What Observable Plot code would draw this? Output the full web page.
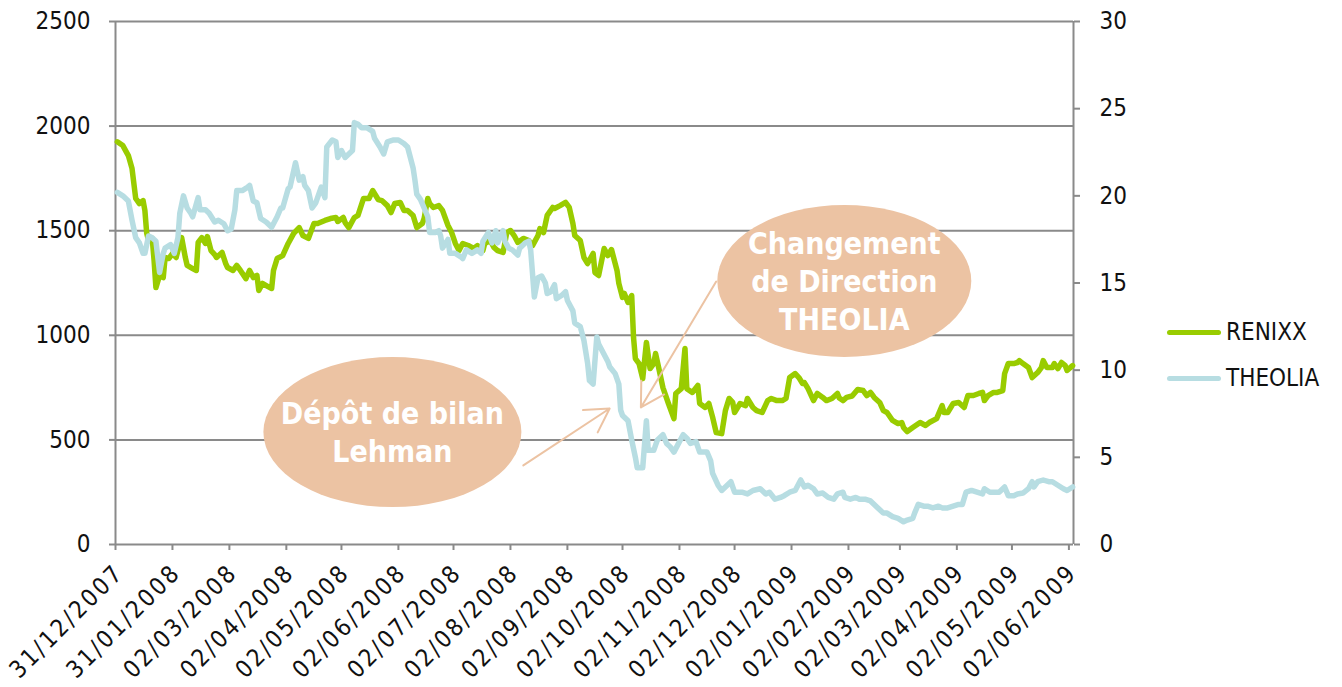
<!DOCTYPE html>
<html><head><meta charset="utf-8">
<script src="https://cdn.jsdelivr.net/npm/d3@7"></script>
<script src="https://cdn.jsdelivr.net/npm/@observablehq/plot@0.6"></script>
<style>
body{margin:0;background:#fff;}
#wrap{position:relative;width:1342px;height:687px;font-family:'DejaVu Sans Condensed','DejaVu Sans',sans-serif;font-stretch:condensed;}
#legend{position:absolute;left:1167px;top:309px;font-size:24px;color:#111;}
.item{display:flex;align-items:center;height:46px;white-space:nowrap;}
.sw{width:54px;height:5px;margin-right:5px;border-radius:2.5px;}
</style></head><body><div id="wrap"><div id="legend"></div></div>
<script>
// ---- data ----
const startLabel = "31/12/2007";
const xTickLabels = ["31/12/2007","31/01/2008","02/03/2008","02/04/2008","02/05/2008","02/06/2008","02/07/2008","02/08/2008","02/09/2008","02/10/2008","02/11/2008","02/12/2008","02/01/2009","02/02/2009","02/03/2009","02/04/2009","02/05/2009","02/06/2009"];
const leftTicks = [0,500,1000,1500,2000,2500];
const rightTicks = [0,5,10,15,20,25,30];
const seriesNames = ["RENIXX","THEOLIA"];

// days since 31/12/2007
const renixxDay = [1,4,7,9,11,13,15,16,17,18,20,21,22,24,26,27,29,31,33,35,36,38,39,42,44,45,47,49,50,52,54,55,58,60,61,64,66,68,71,73,75,77,78,80,83,85,86,88,91,94,97,100,102,105,108,110,114,117,120,121,124,125,127,130,132,135,138,140,143,145,148,150,152,155,157,159,162,164,167,168,170,171,173,176,178,181,183,185,187,189,192,195,197,200,201,204,206,208,211,213,215,217,219,222,225,227,230,231,233,235,238,239,242,245,247,249,250,253,255,257,260,261,263,266,268,270,273,274,276,277,279,281,282,283,285,287,289,291,293,294,296,298,301,304,305,308,310,311,314,317,318,321,323,325,327,330,332,334,336,337,340,343,344,347,349,352,355,357,360,363,365,367,370,372,374,375,377,380,382,385,387,390,393,394,396,398,401,404,407,409,411,413,416,418,420,423,426,428,429,431,434,438,441,443,447,450,451,453,456,459,462,464,467,470,472,473,475,478,480,483,484,486,489,491,492,494,497,499,502,504,505,507,510,511,513,515,517,518,521];
const renixxValue = [1925,1907,1859,1797,1654,1630,1644,1597,1487,1453,1463,1358,1228,1286,1276,1372,1367,1391,1372,1439,1467,1372,1334,1319,1310,1444,1467,1439,1472,1405,1386,1372,1396,1343,1324,1310,1334,1310,1271,1310,1276,1286,1214,1248,1233,1224,1310,1367,1381,1439,1487,1515,1477,1463,1534,1534,1549,1558,1563,1544,1563,1539,1515,1563,1573,1654,1654,1692,1649,1644,1620,1587,1630,1635,1597,1597,1573,1515,1534,1558,1654,1630,1611,1620,1597,1525,1491,1439,1405,1439,1429,1415,1429,1405,1439,1453,1420,1405,1396,1491,1501,1477,1444,1463,1453,1429,1477,1510,1491,1573,1611,1606,1620,1635,1611,1534,1477,1453,1372,1343,1391,1300,1286,1415,1381,1410,1310,1248,1181,1200,1157,1190,989,889,865,793,966,841,865,913,832,750,674,602,722,745,937,745,727,760,674,655,674,610,535,530,640,698,679,631,674,664,698,655,640,631,688,698,688,688,698,798,817,798,770,774,745,688,722,703,688,698,722,700,688,703,710,741,736,712,727,703,679,640,631,593,578,583,559,540,559,583,569,583,602,664,631,631,674,679,655,712,712,722,727,688,712,727,727,736,817,865,865,870,879,865,846,798,822,846,879,846,846,865,841,870,855,832,855];

const theoliaDay = [1,4,7,9,11,13,15,16,18,20,22,24,26,27,30,32,34,35,37,39,41,42,45,46,49,51,54,56,59,61,63,65,66,69,72,73,75,77,79,82,85,88,90,91,94,95,98,100,102,103,105,107,109,112,114,115,118,120,121,123,125,127,129,130,132,134,137,140,141,144,146,148,151,154,157,159,160,162,163,164,166,168,170,171,174,176,177,178,181,182,185,188,189,191,194,197,199,200,203,205,207,208,211,212,214,216,219,220,223,225,226,228,230,232,234,235,237,239,240,243,245,246,249,250,253,255,257,258,260,262,263,265,268,269,272,274,275,276,279,281,283,284,287,289,290,293,295,296,298,300,302,304,306,309,311,313,316,318,322,324,325,328,330,332,335,337,341,344,347,351,354,356,359,362,364,367,370,373,375,377,380,382,385,388,391,393,396,397,400,403,405,408,411,413,415,418,420,423,426,429,431,434,435,437,440,442,445,448,450,453,456,459,461,463,466,469,472,473,476,479,481,484,486,489,491,494,497,499,500,502,505,508,510,513,516,518,521];
const theoliaValue = [20.2,20.0,19.7,18.6,17.6,17.3,16.7,16.7,17.7,17.6,17.4,15.6,16.7,17.0,17.2,16.7,17.6,19.0,20.0,19.3,19.0,18.8,19.9,19.2,19.2,19.0,18.5,18.6,18.4,18.0,18.1,19.2,20.3,20.3,20.5,20.6,19.7,19.6,18.7,18.5,18.2,18.8,19.3,19.3,20.4,20.5,21.9,20.9,21.1,20.6,20.3,19.3,19.6,20.5,19.9,22.8,23.2,23.1,22.2,22.6,22.2,22.4,22.6,24.2,24.1,23.9,23.9,23.7,23.3,22.8,22.4,23.1,23.2,23.2,23.0,22.8,22.4,21.6,20.9,20.1,19.8,19.3,18.8,17.9,17.9,18.0,17.7,17.0,17.5,16.7,16.7,16.5,16.4,16.9,16.7,16.9,16.7,17.4,17.9,17.3,18.0,17.3,18.0,17.4,17.0,16.9,16.6,17.0,17.3,17.4,16.9,14.2,15.3,15.4,15.0,14.4,14.5,14.9,14.1,14.3,14.5,14.0,13.4,12.7,12.5,11.7,10.4,9.4,9.2,11.9,11.5,11.1,10.5,10.2,9.8,9.2,7.7,7.4,7.1,6.0,5.0,4.4,4.4,7.1,5.4,5.4,6.0,6.1,6.3,5.8,5.6,5.3,5.7,6.3,6.1,5.8,5.9,5.3,5.3,4.8,4.1,3.4,3.1,3.3,3.6,3.0,3.0,2.9,3.1,3.2,2.9,3.0,2.6,2.7,2.8,3.0,3.1,3.7,3.3,3.4,3.2,2.9,2.95,2.7,2.6,2.9,3.0,2.7,2.6,2.7,2.6,2.6,2.5,2.3,2.1,1.8,1.8,1.6,1.5,1.3,1.4,1.5,1.8,2.3,2.2,2.2,2.1,2.2,2.1,2.1,2.2,2.3,2.3,3.0,3.1,3.0,2.9,3.2,3.0,3.0,3.0,3.3,2.8,2.8,2.9,2.95,3.2,3.6,3.3,3.6,3.7,3.6,3.6,3.4,3.2,3.1,3.3];

// annotations (positions in data units: day since start, left-axis value)
const bubbleTexts = [["Dépôt de bilan","Lehman"],["Changement","de Direction","THEOLIA"]];
const bubbleDay = [151, 397];
const bubbleValue = [535, 1257];
const arrowFromDay = [222, 327], arrowFromValue = [378, 1257];
const arrowToDay = [269, 286], arrowToValue = [650, 655];

// ---- styles ----
const FONT = "'DejaVu Sans Condensed','DejaVu Sans',sans-serif";
const GREEN = "#99CC00", BLUE = "#B7DDE2", GRID = "#8a8a8a", PEACH = "#ECC3A3";
const W = 1342, H = 687, ML = 115, MR = 269, MT = 21, MB = 143;

const parse = d3.utcParse("%d/%m/%Y");
const start = parse(startLabel);
const toDate = d => d3.utcDay.offset(start, d);
const xEnd = d3.utcHour.offset(toDate(renixxDay[renixxDay.length-1]), 12);
const ratio = 2500 / 30;
const xTicks = xTickLabels.map(parse);

const renixx = renixxDay.map((d,i) => ({date: toDate(d), value: renixxValue[i]}));
const theolia = theoliaDay.map((d,i) => ({date: toDate(d), value: theoliaValue[i] * ratio}));
const arrows = arrowFromDay.map((d,i) => ({x1: toDate(d), y1: arrowFromValue[i], x2: toDate(arrowToDay[i]), y2: arrowToValue[i]}));

const plot = Plot.plot({
  width: W, height: H,
  marginLeft: ML, marginRight: MR, marginTop: MT, marginBottom: MB,
  x: {type: "utc", domain: [start, xEnd]},
  y: {domain: [0, 2500]},
  style: {fontFamily: FONT, fontSize: "24px", color: "#111", background: "transparent", overflow: "visible", fontStretch: "condensed"},
  marks: [
    Plot.ruleY(leftTicks, {stroke: GRID, strokeWidth: 2}),
    Plot.ruleX([start, xEnd], {stroke: GRID, strokeWidth: 2}),
    Plot.axisY({anchor: "left", ticks: leftTicks, tickFormat: d => String(d), tickSize: 6, tickPadding: 19, stroke: GRID, strokeWidth: 2, fill: "#111", fontSize: 24, label: null}),
    Plot.axisY({anchor: "right", ticks: rightTicks.map(v => v * ratio), tickFormat: d => String(Math.round(d / ratio)), tickSize: 6, tickPadding: 20, stroke: GRID, strokeWidth: 2, fill: "#111", fontSize: 24, label: null}),
    Plot.axisX({ticks: xTicks, tickFormat: () => "", tickSize: 6, stroke: GRID, strokeWidth: 2, label: null}),
    Plot.axisX({ticks: xTicks, tickFormat: d3.utcFormat("%d/%m/%Y"), tickRotate: -45, tickSize: 0, tickPadding: 24, dx: 4, stroke: "none", fill: "#111", fontSize: 24, label: null}),
    Plot.line(renixx, {x: "date", y: "value", stroke: GREEN, strokeWidth: 5.5, strokeLinejoin: "round", strokeLinecap: "round"}),
    Plot.line(theolia, {x: "date", y: "value", stroke: BLUE, strokeWidth: 5.5, strokeLinejoin: "round", strokeLinecap: "round"}),
    Plot.arrow(arrows, {x1: "x1", y1: "y1", x2: "x2", y2: "y2", stroke: PEACH, strokeWidth: 2, headLength: 20, headAngle: 60})
  ]
});
document.getElementById("wrap").appendChild(plot);

// x-label letter spacing
d3.select(plot).selectAll("[aria-label='x-axis tick label'] text").style("letter-spacing", "2.5px");

// bubbles
const xs = d3.scaleUtc().domain([start, xEnd]).range([ML, W - MR]);
const ys = d3.scaleLinear().domain([0, 2500]).range([H - MB, MT]);
const g = d3.select(plot).append("g");
const radii = [[129, 75], [127, 76]];
bubbleTexts.forEach((lines, i) => {
  const cx = xs(toDate(bubbleDay[i])), cy = ys(bubbleValue[i]);
  g.append("ellipse").attr("cx", cx).attr("cy", cy).attr("rx", radii[i][0]).attr("ry", radii[i][1]).attr("fill", PEACH);
  const n = lines.length, lh = 38;
  lines.forEach((t, j) => {
    g.append("text").attr("x", cx).attr("y", cy - (n - 1) * lh / 2 + j * lh + 11)
      .attr("text-anchor", "middle").attr("fill", "#fff")
      .style("font-family", FONT).style("font-weight", "bold").style("font-size", "30px").style("font-stretch", "condensed")
      .text(t);
  });
});

// legend
const legend = d3.select("#legend");
[GREEN, BLUE].forEach((c, i) => {
  const it = legend.append("div").attr("class", "item");
  it.append("div").attr("class", "sw").style("background", c);
  it.append("span").text(seriesNames[i]);
});
</script>
</body></html>
